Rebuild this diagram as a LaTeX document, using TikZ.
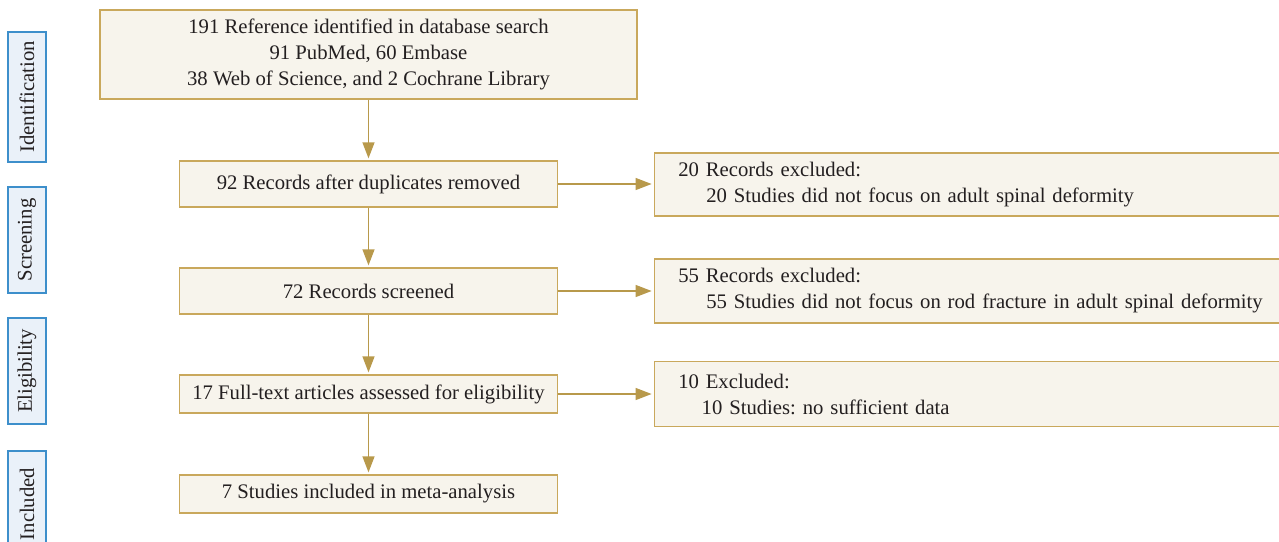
\documentclass[tikz,border=0pt]{standalone}
\usepackage{fontspec}
\setmainfont{Liberation Serif}
\frenchspacing
\usetikzlibrary{arrows.meta}
\definecolor{boxfill}{HTML}{F7F4EC}
\definecolor{boxline}{HTML}{C9A85C}
\definecolor{arrowcol}{HTML}{B8994B}
\definecolor{stagefill}{HTML}{EAF1F9}
\definecolor{stageline}{HTML}{3D8FCB}
\definecolor{txt}{HTML}{231F20}

\begin{document}
\begin{tikzpicture}[x=0.5pt,y=-0.5pt,
    font=\fontsize{10.35}{13}\selectfont, text=txt,
    flowbox/.style={draw=boxline, fill=boxfill, line width=0.65pt, inner sep=0pt, align=center, minimum width=189pt},
    exbox/.style={draw=boxline, fill=boxfill, line width=0.65pt, anchor=west, inner xsep=12pt, inner ysep=0pt, text width=299pt, align=left},
    stage/.style={draw=stageline, fill=stagefill, line width=0.65pt, rotate=90, minimum height=19pt, inner sep=0pt},
    flow/.style={draw=arrowcol, line width=0.65pt, -{Triangle[length=8pt,width=6pt]}, shorten >=1pt}]
        \useasboundingbox (0,0) rectangle (1279,541);
        % stages
        \node[stage, minimum width=65pt] (sid) at (27,97) {Identification};
        \node[stage, minimum width=53pt] (sscr) at (27,240) {Screening};
        \node[stage, minimum width=53pt] (selig) at (27,371) {Eligibility};
        \node[stage, minimum width=53pt] (sincl) at (27,504) {Included};
        % main column
        \node[flowbox, minimum width=268.5pt, minimum height=44.5pt] (id) at (368.5,54.5)
            {191 Reference identified in database search\\ 91 PubMed, 60 Embase\\ 38 Web of Science, and 2 Cochrane Library};
        \node[flowbox, minimum height=23pt] (dup) at (368.5,184) {92 Records after duplicates removed};
        \node[flowbox, minimum height=23pt] (scr) at (368.5,291) {72 Records screened};
        \node[flowbox, minimum height=19pt] (elig) at (368.5,394) {17 Full-text articles assessed for eligibility};
        \node[flowbox, minimum height=19pt] (incl) at (368.5,494) {7 Studies included in meta-analysis};
        % exclusions
        \node[exbox, minimum height=31.5pt] (ex1) at (653.6,184.4)
            {20 Records excluded:\\ \hspace*{14pt}20 Studies did not focus on adult spinal deformity};
        \node[exbox, minimum height=32pt] (ex2) at (653.6,291)
            {55 Records excluded:\\ \hspace*{14pt}55 Studies did not focus on rod fracture in adult spinal deformity};
        \node[exbox, minimum height=32.5pt] (ex3) at (653.6,394)
            {10 Excluded:\\ \hspace*{11.7pt}10 Studies: no sufficient data};
        \draw[flow] (id) -- (dup);
        \draw[flow] (dup) -- (scr);
        \draw[flow] (scr) -- (elig);
        \draw[flow] (elig) -- (incl);
        \draw[flow] (dup.east) -- (dup.east -| ex1.west);
        \draw[flow] (scr.east) -- (scr.east -| ex2.west);
        \draw[flow] (elig.east) -- (elig.east -| ex3.west);
    \end{tikzpicture}
\end{document}
